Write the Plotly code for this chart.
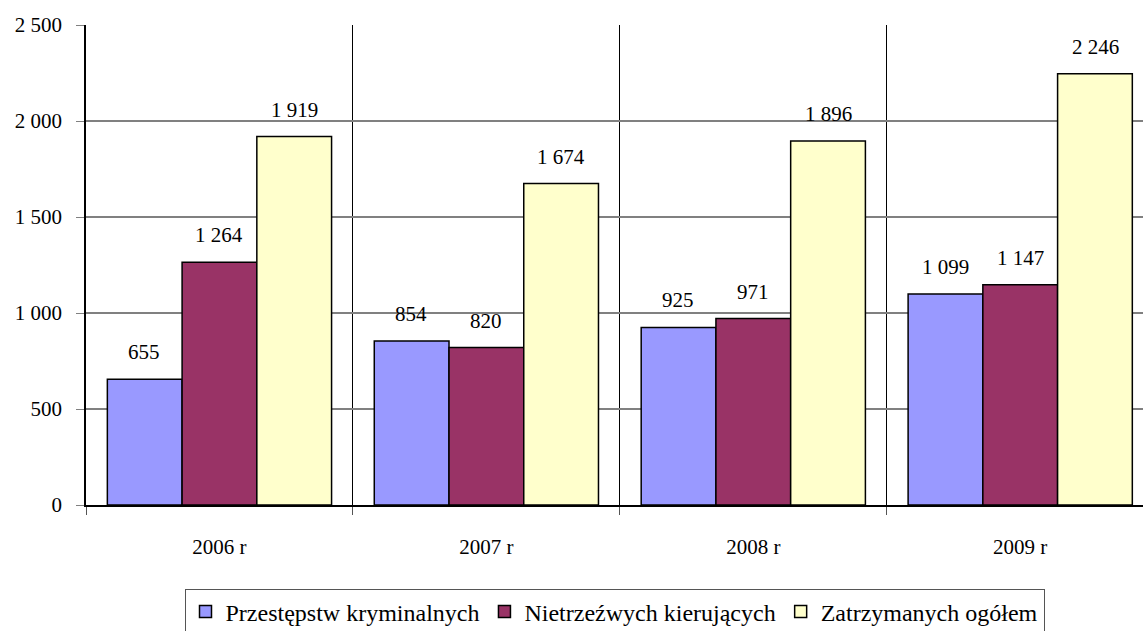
import plotly.graph_objects as go

categories = ["2006 r", "2007 r", "2008 r", "2009 r"]
series_names = ["Przestępstw kryminalnych", "Nietrzeźwych kierujących", "Zatrzymanych ogółem"]
przestepstw = [655, 854, 925, 1099]
nietrzezwych = [1264, 820, 971, 1147]
zatrzymanych = [1919, 1674, 1896, 2246]
colors = ["#9999FF", "#993366", "#FFFFCC"]
y_ticks = [0, 500, 1000, 1500, 2000, 2500]

font_family = "Liberation Serif"
series = [przestepstw, nietrzezwych, zatrzymanych]

fig = go.Figure()
for name, vals, col in zip(series_names, series, colors):
    fig.add_trace(go.Bar(
        x=categories, y=vals, name=name,
        marker=dict(color=col, line=dict(color="black", width=1.5)),
    ))

# value labels above bars
bar_px = 75
for i, vals in enumerate(series):
    for cat, v in zip(categories, vals):
        fig.add_annotation(
            x=cat, y=v, xref="x", yref="y",
            text=f"{v:,}".replace(",", " "),
            showarrow=False, yanchor="bottom",
            xshift=(i - 1) * bar_px, yshift=13,
            font=dict(family=font_family, size=21, color="black"),
        )

fig.update_layout(
    width=1143, height=631,
    margin=dict(l=86, r=0, t=25, b=126, autoexpand=False),
    paper_bgcolor="white", plot_bgcolor="white",
    barmode="group", bargap=0.16, bargroupgap=0,
    separators=". ",
    showlegend=True,
    legend=dict(
        orientation="h", x=0.5, xanchor="center", y=-0.174, yanchor="top",
        bordercolor="#555555", borderwidth=1, bgcolor="white",
        font=dict(family=font_family, size=24, color="black"),
        itemwidth=30, tracegroupgap=0,
    ),
    font=dict(family=font_family, size=20, color="black"),
)
fig.update_xaxes(
    type="category", range=[-0.5, 3.46],
    tickson="boundaries", showgrid=True, gridcolor="black", gridwidth=1,
    ticks="outside", ticklen=8, tickcolor="#555555",
    showline=True, linecolor="black", linewidth=1.5,
    ticklabelstandoff=22,
    tickfont=dict(family=font_family, size=21, color="black"),
)
fig.update_yaxes(
    range=[0, 2500], tickvals=y_ticks, tickformat=",d",
    showgrid=True, gridcolor="#808080", gridwidth=1.5,
    ticks="outside", ticklen=8, tickcolor="#808080",
    showline=True, linecolor="black", linewidth=1.5,
    zeroline=False, ticklabelstandoff=10,
    tickfont=dict(family=font_family, size=21, color="black"),
)

fig.write_html(
    "out.html",
    config={"displayModeBar": False},
    post_script="document.body.style.margin='0';document.body.style.overflow='hidden';",
)
